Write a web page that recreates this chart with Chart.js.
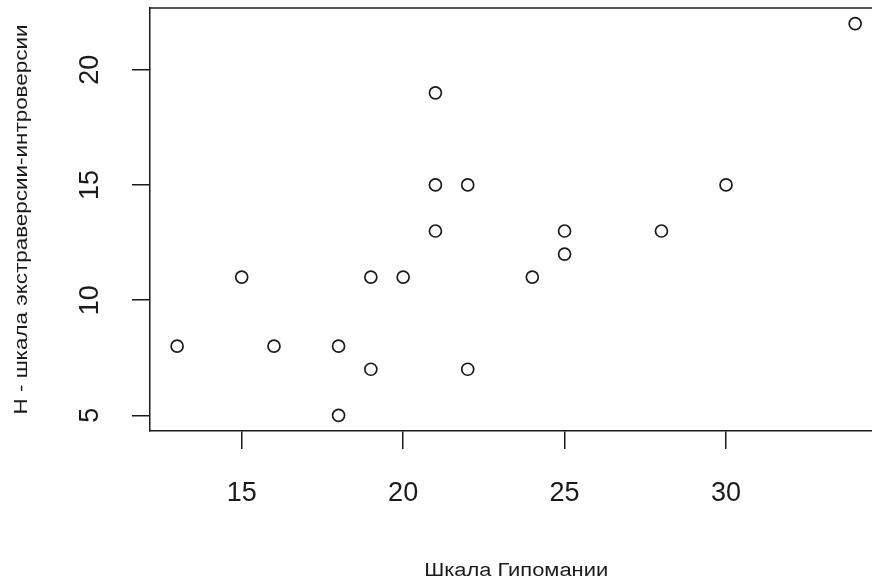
<!DOCTYPE html>
<html>
<head>
<meta charset="utf-8">
<script src="https://cdn.jsdelivr.net/npm/chart.js@4.4.1/dist/chart.umd.min.js"></script>
<style>
  html, body { margin: 0; padding: 0; background: #fff; overflow: hidden; width: 872px; height: 586px; }
  canvas { display: block; }
</style>
</head>
<body>
<canvas id="c" width="890" height="586"></canvas>
<script>
// Hypomania scale score vs. extraversion-introversion (H) score
const hypomania = [13, 15, 16, 18, 18, 19, 19, 20, 21, 21, 21, 22, 22, 24, 25, 25, 28, 30, 34];
const extraversion = [8, 11, 8, 8, 5, 11, 7, 11, 19, 15, 13, 15, 7, 11, 13, 12, 13, 15, 22];
const xTicks = [15, 20, 25, 30];
const yTicks = [5, 10, 15, 20];
const xTitle = 'Шкала Гипомании';
const yTitle = 'H - шкала экстраверсии-интроверсии';

const FONT = '"Liberation Sans", Arial, sans-serif';
const INK = '#1a1a1a';

function padRange(vals) {
  const lo = Math.min(...vals), hi = Math.max(...vals);
  const p = (hi - lo) * 0.04;
  return [lo - p, hi + p];
}
const [xMin, xMax] = padRange(hypomania);
const [yMin, yMax] = padRange(extraversion);

// draws text centred at (x, y), stretched along its direction to a set length
function stretchedText(ctx, text, x, y, angle, length) {
  const w = ctx.measureText(text).width;
  ctx.save();
  ctx.translate(x, y);
  ctx.rotate(angle);
  ctx.scale(length / w, 1);
  ctx.fillText(text, 0, 0);
  ctx.restore();
}

// top frame line plus rotated y tick labels and axis titles
const framePlugin = {
  id: 'frame',
  afterDraw(chart) {
    const { ctx, chartArea: a, scales } = chart;
    ctx.save();
    ctx.strokeStyle = INK;
    ctx.lineWidth = 1.5;
    ctx.beginPath();
    ctx.moveTo(a.left, a.top);
    ctx.lineTo(a.right + 10, a.top);
    ctx.stroke();

    ctx.fillStyle = INK;
    ctx.textAlign = 'center';
    ctx.textBaseline = 'middle';
    ctx.font = '27px ' + FONT;
    yTicks.forEach(v => {
      const y = scales.y.getPixelForValue(v);
      ctx.save();
      ctx.translate(91, y);
      ctx.rotate(-Math.PI / 2);
      ctx.fillText(String(v), 0, 0);
      ctx.restore();
    });

    ctx.font = '19px ' + FONT;
    stretchedText(ctx, yTitle, 22, (a.top + a.bottom) / 2, -Math.PI / 2, 390);

    ctx.font = '18px ' + FONT;
    stretchedText(ctx, xTitle, (a.left + a.right) / 2, 571, 0, 184);
    ctx.restore();
  }
};

new Chart(document.getElementById('c'), {
  type: 'scatter',
  data: {
    datasets: [{
      data: hypomania.map((x, i) => ({ x, y: extraversion[i] })),
      pointStyle: 'circle',
      pointRadius: 6,
      pointHoverRadius: 6,
      pointBorderWidth: 1.7,
      borderColor: INK,
      backgroundColor: 'rgba(0,0,0,0)'
    }]
  },
  options: {
    responsive: false,
    animation: false,
    events: [],
    layout: { padding: { top: 8, right: 7, left: 0, bottom: 0 } },
    plugins: { legend: { display: false }, tooltip: { enabled: false } },
    scales: {
      x: {
        type: 'linear',
        min: xMin,
        max: xMax,
        afterBuildTicks(s) { s.ticks = xTicks.map(v => ({ value: v })); },
        afterFit(s) { s.height = 155; },
        grid: { drawOnChartArea: false, drawTicks: true, tickLength: 18, color: INK, lineWidth: 1.5 },
        border: { display: true, color: INK, width: 1.5 },
        ticks: { color: INK, font: { family: FONT, size: 27 }, padding: 28, maxRotation: 0 }
      },
      y: {
        type: 'linear',
        min: yMin,
        max: yMax,
        afterBuildTicks(s) { s.ticks = yTicks.map(v => ({ value: v })); },
        afterFit(s) { s.width = 150; },
        grid: { drawOnChartArea: false, drawTicks: true, tickLength: 18, color: INK, lineWidth: 1.5 },
        border: { display: true, color: INK, width: 1.5 },
        ticks: { display: false }
      }
    }
  },
  plugins: [framePlugin]
});
</script>
</body>
</html>
